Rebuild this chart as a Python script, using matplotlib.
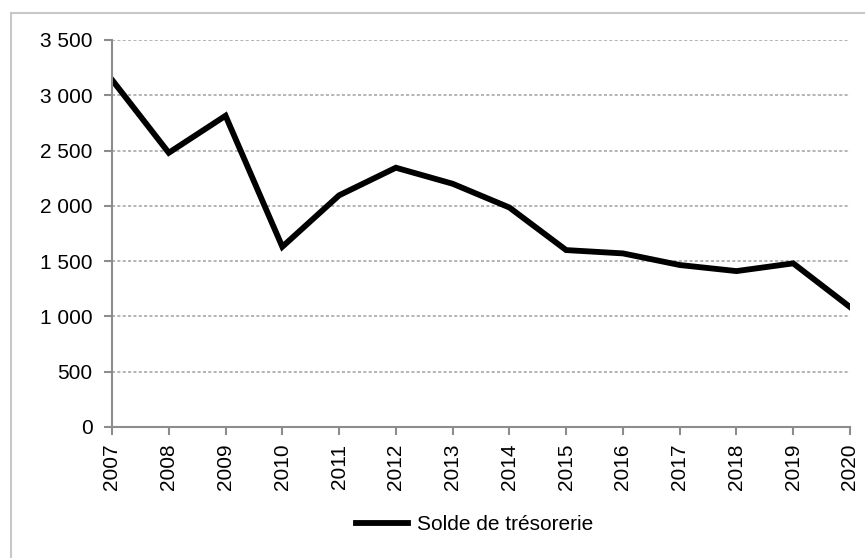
import matplotlib as mpl
mpl.use('Agg')
from matplotlib import pyplot as plt
from matplotlib.lines import Line2D
from matplotlib.ticker import FuncFormatter

years = [2007, 2008, 2009, 2010, 2011, 2012, 2013, 2014,
         2015, 2016, 2017, 2018, 2019, 2020]
solde = [3140, 2480, 2815, 1630, 2095, 2345, 2200, 1985,
         1600, 1570, 1465, 1410, 1480, 1085]
yticks = [0, 500, 1000, 1500, 2000, 2500, 3000, 3500]

plt.rcParams['font.family'] = ['Liberation Sans', 'DejaVu Sans']

fig = plt.figure(figsize=(8.65, 5.58), dpi=100)
ax = fig.add_axes([112/865, 1-427/558, (850-112)/865, (427-40)/558])

ax.plot(years, solde, color='black', lw=4.2, solid_joinstyle='miter',
        label='Solde de trésorerie')

ax.set_xlim(years[0], years[-1])
ax.set_ylim(0, 3500)
ax.set_xticks(years)
ax.set_xticklabels([str(y) for y in years], rotation=90)
ax.set_yticks(yticks)
ax.yaxis.set_major_formatter(FuncFormatter(lambda v, p: f"{int(v):,}".replace(",", " ")))

ax.grid(axis='y', color='#a0a0a0', lw=1.1, linestyle=(0, (2, 1.5)))
ax.set_axisbelow(True)
for s in ['top', 'right']:
    ax.spines[s].set_visible(False)
for s in ['left', 'bottom']:
    ax.spines[s].set_color('#8c8c8c')
    ax.spines[s].set_linewidth(1.5)
ax.tick_params(axis='both', colors='#8c8c8c', length=6, width=1.5,
               labelsize=15, labelcolor='black')
ax.tick_params(axis='y', pad=8)
ax.tick_params(axis='x', pad=6)

# outer chart frame (cropped on right / bottom)
fig.add_artist(Line2D([11/865, 11/865], [0, 1-13/558], color='#c8c8c8', lw=1.5))
fig.add_artist(Line2D([11/865, 1], [1-13/558, 1-13/558], color='#c8c8c8', lw=1.5))

fig.legend(loc='center', bbox_to_anchor=(0.549, 1-525/558), frameon=False,
           fontsize=15, handlelength=2.5, handletextpad=0.45)

plt.savefig('out.png', dpi=100)
